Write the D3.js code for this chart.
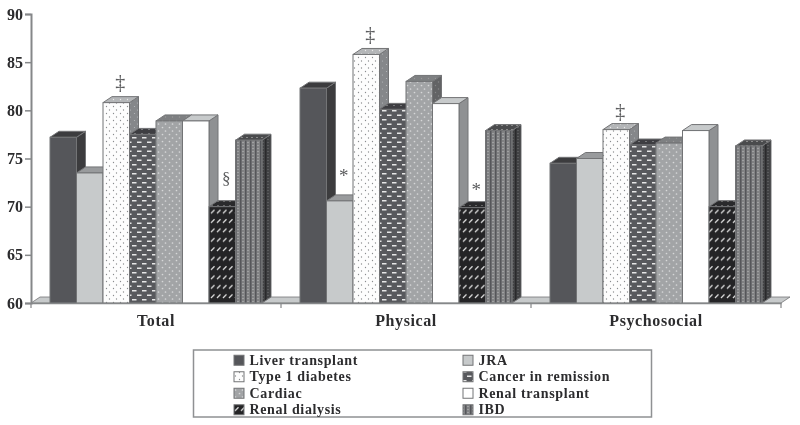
<!DOCTYPE html>
<html><head><meta charset="utf-8">
<script src="https://cdn.jsdelivr.net/npm/d3@7"></script>
<style>html,body{margin:0;padding:0;background:#fff}svg{display:block;filter:blur(0.5px)}
text{font-family:"Liberation Serif",serif;font-weight:700;fill:#2c2c2e}</style>
</head><body><svg id="c" width="800" height="425"></svg>
<script>
const groups = ["Total","Physical","Psychosocial"];
const series = ["Liver transplant","JRA","Type 1 diabetes","Cancer in remission","Cardiac","Renal transplant","Renal dialysis","IBD"];
const liver = [77.2,82.3,74.5];
const jra = [73.5,70.6,75.0];
const diabetes = [80.8,85.8,78.0];
const cancer = [77.5,80.1,76.4];
const cardiac = [78.9,83.0,76.6];
const renalTx = [78.9,80.7,77.9];
const dialysis = [70.0,69.9,70.0];
const ibd = [76.9,77.9,76.3];
const values = [liver,jra,diabetes,cancer,cardiac,renalTx,dialysis,ibd];
const yTicks = [60,65,70,75,80,85,90];
// annotation: group, series, symbol, level on the value axis
const noteGroup = ["Total","Total","Physical","Physical","Physical","Psychosocial"];
const noteSeries = ["Type 1 diabetes","Renal dialysis","Type 1 diabetes","JRA","Renal dialysis","Type 1 diabetes"];
const noteSymbol = ["‡","§","‡","*","*","‡"];
const noteLevel = [82.9,72.9,87.9,73.2,71.8,79.9];

const svg = d3.select("#c");
const y = d3.scaleLinear().domain([60,90]).range([303,14]);
const x0 = d3.scaleBand().domain(groups).range([31,781]);
const x1 = d3.scaleBand().domain(series).range([19,231]);
const dx = 9, dy = -6;
const defs = svg.append("defs");

function pat(id,w,h,bg,draw){
  const p = defs.append("pattern").attr("id",id).attr("patternUnits","userSpaceOnUse").attr("width",w).attr("height",h);
  p.append("rect").attr("width",w).attr("height",h).attr("fill",bg);
  draw(p);
}
const dots=(c,r)=>p=>{
  p.append("circle").attr("cx",1.5).attr("cy",1.5).attr("r",r).attr("fill",c);
  p.append("circle").attr("cx",4.5).attr("cy",5).attr("r",r).attr("fill",c);
};
const bricks=(c)=>p=>{
  p.append("rect").attr("x",2).attr("y",2).attr("width",4.5).attr("height",1.5).attr("fill",c);
  p.append("rect").attr("x",7).attr("y",6.5).attr("width",3).attr("height",1.5).attr("fill",c);
  p.append("rect").attr("x",0).attr("y",6.5).attr("width",1.5).attr("height",1.5).attr("fill",c);
};
const slashes=(c)=>p=>{
  [0,6].forEach(o=>p.append("path").attr("d",`M${o+1},6.5 L${o+4.5},3`).attr("stroke",c).attr("stroke-width",1.3));
};
const stripes=(c,d)=>p=>{
  p.append("rect").attr("x",0).attr("width",1.5).attr("height",3).attr("fill",c);
  p.append("circle").attr("cx",3).attr("cy",1.5).attr("r",.6).attr("fill",d);
};
pat("t1f",7,7,"#fdfdfd",dots("#8a8c8e",.65));
pat("t1t",7,7,"#b4b6b8",dots("#e8e8e8",.7));
pat("t1s",7,7,"#85878a",dots("#b8babc",.6));
pat("caf",10,9,"#58595d",bricks("#e6e6e6"));
pat("cat",7,4,"#3e3e42",p=>p.append("rect").attr("x",1).attr("y",1).attr("width",2).attr("height",1).attr("fill","#77787a"));
pat("caS",10,9,"#45464a",bricks("#999"));
pat("cdf",7,7,"#a2a4a6",dots("#d6d7d8",.85));
pat("cdt",7,7,"#7e8082",dots("#999",.7));
pat("cds",7,7,"#626365",dots("#858688",.7));
pat("dif",12,9.4,"#242426",slashes("#dcdcdc"));
pat("dit",6,4,"#2a2a2c",p=>p.append("rect").attr("x",1).attr("y",1).attr("width",2).attr("height",1).attr("fill","#666"));
pat("dis",12,9.4,"#242426",slashes("#888"));
pat("ibf",5,3,"#818284",stripes("#55565a","#c4c5c6"));
pat("ibt",5,4,"#4a4b4d",p=>p.append("rect").attr("x",1).attr("y",1).attr("width",2).attr("height",1).attr("fill","#8a8a8a"));
pat("ibs",5,3,"#424345",stripes("#2a2a2c","#77787a"));

const fills = [
 {f:"#55565a",t:"#3c3c3e",s:"#3c3c3e"},
 {f:"#c7cacb",t:"#999b9d",s:"#8f9193"},
 {f:"url(#t1f)",t:"url(#t1t)",s:"url(#t1s)"},
 {f:"url(#caf)",t:"url(#cat)",s:"url(#caS)"},
 {f:"url(#cdf)",t:"url(#cdt)",s:"url(#cds)"},
 {f:"#ffffff",t:"#c7cacb",s:"#8f9193"},
 {f:"url(#dif)",t:"url(#dit)",s:"url(#dis)"},
 {f:"url(#ibf)",t:"url(#ibt)",s:"url(#ibs)"}
];
const stroke = "#737476";

// floor
const xL = x0.range()[0], xR = x0.range()[1], y0 = y(60);
svg.append("path").attr("d",`M${xL},${y0}L${xL+dx},${y0+dy}L${xR+dx},${y0+dy}L${xR},${y0}Z`)
  .attr("fill","#c7cacb").attr("stroke",stroke).attr("stroke-width",0.8);

// bars
groups.forEach((g,gi)=>{
  const gEl = svg.append("g");
  series.forEach((s,si)=>{
    const v = values[si][gi];
    const X = x0(g)+x1(s), W = x1.bandwidth(), Y = y(v);
    const b = gEl.append("g").attr("stroke",stroke).attr("stroke-width",1);
    b.append("path").attr("d",`M${X+W},${Y}L${X+W+dx},${Y+dy}L${X+W+dx},${y0+dy}L${X+W},${y0}Z`).attr("fill",fills[si].s);
    b.append("path").attr("d",`M${X},${Y}L${X+dx},${Y+dy}L${X+W+dx},${Y+dy}L${X+W},${Y}Z`).attr("fill",fills[si].t);
    b.append("rect").attr("x",X).attr("y",Y).attr("width",W).attr("height",y0-Y).attr("fill",fills[si].f);
  });
});

// axes
const yAxis = d3.axisLeft(y).tickValues(yTicks).tickSize(6).tickPadding(2);
const ya = svg.append("g").attr("transform",`translate(${xL},0)`).call(yAxis);
ya.select(".domain").attr("stroke","#858789").attr("stroke-width",2);
ya.selectAll(".tick line").attr("stroke","#858789").attr("stroke-width",1.5);
ya.selectAll("text").attr("font-size",16).style("font-family",'"Liberation Serif",serif').style("font-weight",700).style("fill","#2c2c2e");

const xa = svg.append("g").attr("transform",`translate(0,${y0})`).call(d3.axisBottom(x0).tickSize(0).tickPadding(12));
xa.select(".domain").attr("stroke","#858789").attr("stroke-width",1.5);
xa.selectAll("text").attr("font-size",16).style("font-family",'"Liberation Serif",serif').style("font-weight",700).style("fill","#2c2c2e").style("letter-spacing","0.6px");
svg.append("g").selectAll("line").data(d3.range(4)).join("line")
  .attr("x1",i=>xL+i*x0.step()).attr("x2",i=>xL+i*x0.step()).attr("y1",y0).attr("y2",y0+5)
  .attr("stroke","#858789").attr("stroke-width",1.2);

// annotations
svg.append("g").selectAll("text").data(noteSymbol).join("text")
  .attr("x",(d,i)=>x0(noteGroup[i])+x1(noteSeries[i])+x1.bandwidth()/2+4)
  .attr("y",(d,i)=>y(noteLevel[i]))
  .attr("text-anchor","middle").attr("dominant-baseline","central")
  .attr("font-size",d=>d==="*"?19:d==="§"?17:20).style("fill","#5a5b5d").style("font-weight",400)
  .text(d=>d);

// legend
const lg = svg.append("g");
lg.append("rect").attr("x",193.5).attr("y",350).attr("width",458).attr("height",67)
  .attr("fill","#fff").attr("stroke","#8f9193").attr("stroke-width",1.5);
const col = d3.scaleBand().domain([0,1]).range([234,692]);
const row = d3.scaleBand().domain([0,1,2,3]).range([352,418]);
series.forEach((s,i)=>{
  const cx = col(i%2), cy = row(Math.floor(i/2))+row.bandwidth()/2;
  lg.append("rect").attr("x",cx).attr("y",cy-5).attr("width",10).attr("height",10)
    .attr("fill",fills[i].f).attr("stroke",stroke).attr("stroke-width",1);
  lg.append("text").attr("x",cx+15.5).attr("y",cy).attr("dominant-baseline","central")
    .attr("font-size",14).style("letter-spacing","0.65px").text(s);
});
</script></body></html>
